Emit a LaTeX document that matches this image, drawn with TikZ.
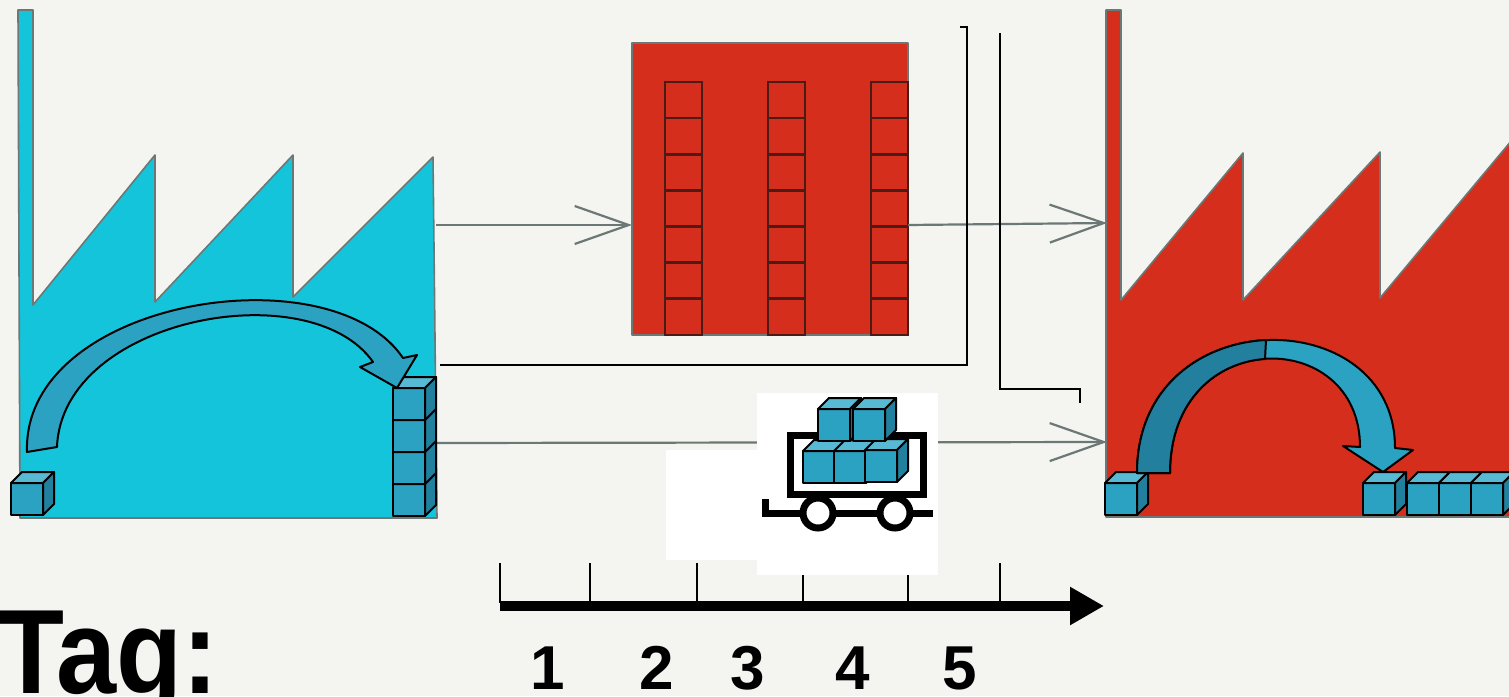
\documentclass[tikz,border=0pt]{standalone}
\usepackage{fontspec}
\setmainfont{Liberation Sans}
\usetikzlibrary{arrows.meta}

\definecolor{paper}{RGB}{244,244,241}
\definecolor{plantcyan}{RGB}{20,196,218}
\definecolor{plantred}{RGB}{214,46,28}
\definecolor{wiregrey}{RGB}{108,120,118}
\definecolor{rackbrown}{RGB}{75,28,22}
\definecolor{cubefront}{RGB}{43,162,194}
\definecolor{cubetop}{RGB}{88,185,212}
\definecolor{cubeside}{RGB}{33,128,157}
\definecolor{bowdark}{RGB}{34,128,158}

\def \cubesize {32}
\def \cubedepth {11}

% one box: #1,#2 = lower left corner of the front face
\newcommand{\boxcube}[2]{%
  \filldraw[cubeedge, fill=cubefront] (#1,#2) rectangle ++(\cubesize,-\cubesize);
  \filldraw[cubeedge, fill=cubetop] (#1,#2-\cubesize) -- ++(\cubedepth,-\cubedepth) -- ++(\cubesize,0) -- ++(-\cubedepth,\cubedepth) -- cycle;
  \filldraw[cubeedge, fill=cubeside] (#1+\cubesize,#2) -- ++(\cubedepth,-\cubedepth) -- ++(0,-\cubesize) -- ++(-\cubedepth,\cubedepth) -- cycle;
}

\tikzset{
  cubeedge/.style={draw=black, line width=2pt, line join=round},
  outline/.style={draw=wiregrey, line width=1.6pt, line join=round},
  flowline/.style={draw=wiregrey, line width=2.2pt, -{Straight Barb[length=54pt,width=38pt]}},
  rack/.style={draw=rackbrown, line width=2.6pt},
  bowarrow/.style={draw=black, line width=2pt, line join=round},
  linkline/.style={draw=black, line width=2pt},
  daytick/.style={draw=black, line width=2.4pt},
  daylabel/.style={font=\fontsize{62}{62}\selectfont\bfseries, anchor=base, inner sep=0pt},
}

\begin{document}
\begin{tikzpicture}[x=1pt, y=-1pt]
\useasboundingbox (0,0) rectangle (1509,696);
\fill[paper] (0,0) rectangle (1509,696);

% supplier plant
\filldraw[outline, fill=plantcyan] (18,10) -- (33,10) -- (33,305) -- (155,155) -- (155,302) -- (293,155) -- (293,297) -- (433,157) -- (437,518) -- (20,518) -- cycle;
% customer plant
\filldraw[outline, fill=plantred] (1106,10) -- (1121,10) -- (1121,300) -- (1243,153) -- (1243,300) -- (1380,152) -- (1380,298) -- (1512,140) -- (1512,517) -- (1106,517) -- cycle;
% warehouse with three racks
\filldraw[outline, fill=plantred] (632,43) rectangle (908,335);
\foreach \x in {665,768,871} {
  \draw[rack] (\x,82) rectangle (\x+37,335);
  \foreach \k in {1,...,6}
    \draw[rack] (\x,82+\k*36.1) -- ++(37,0);
}

% material flow
\coordinate (supOut1) at (436,225);
\coordinate (storeIn) at (632,225);
\coordinate (storeOut) at (908,225);
\coordinate (custIn1) at (1107,223);
\coordinate (supOut2) at (437,443);
\coordinate (custIn2) at (1107,442);
\draw[flowline] (supOut1) -- (storeIn);
\draw[flowline] (storeOut) -- (custIn1);
\draw[flowline] (supOut2) -- (custIn2);

% frame lines
\coordinate (frameA1) at (440,365);
\coordinate (frameA2) at (967,365);
\coordinate (frameA3) at (967,27);
\coordinate (frameA4) at (960,27);
\draw[linkline] (frameA1) -- (frameA2) -- (frameA3) -- (frameA4);
\coordinate (frameB1) at (1000,33);
\coordinate (frameB2) at (1000,389);
\coordinate (frameB3) at (1080,389);
\coordinate (frameB4) at (1080,403);
\draw[linkline] (frameB1) -- (frameB2) -- (frameB3) -- (frameB4);

% day ticks
\foreach \x in {500,590,697,803,908,1000}
  \draw[daytick] (\x,563) -- (\x,603);

% transport cart
\fill[white] (666,450) rectangle (757,560);
\fill[white] (757,393) rectangle (938,575);
\draw[line width=7pt] (790.5,435.5) rectangle (923.5,494.5);
\draw[line width=7pt] (765,499) -- (765,513) -- (933,513);
\filldraw[line width=7pt, fill=white] (818,513) circle (15);
\filldraw[line width=7pt, fill=white] (895,513) circle (15);
\boxcube{803}{483}
\boxcube{834}{483}
\boxcube{865}{482}
\boxcube{818}{441}
\boxcube{853}{441}

% boxes in the plants
\boxcube{11}{515}
\foreach \y in {516,484,452,420} {\boxcube{393}{\y}}
\boxcube{1105}{515}
\boxcube{1363}{515}
\foreach \x in {1407,1439,1471} {\boxcube{\x}{515}}

% handling arrows
\filldraw[bowarrow, fill=cubefront] (27,452) .. controls (22,300) and (330,250) .. (403,358) -- (417,355) -- (397,388) -- (360,367) -- (373,362) .. controls (310,272) and (62,318) .. (57,447) -- cycle;
\filldraw[bowarrow, fill=cubefront] (1137,473) .. controls (1137,300) and (1395,300) .. (1395,448) -- (1413,450) -- (1383,472) -- (1343,446) -- (1360,447) .. controls (1360,325) and (1170,325) .. (1170,473) -- cycle;
\filldraw[bowarrow, fill=bowdark] (1137,473) .. controls (1137,386.5) and (1201.5,343.3) .. (1266,340) -- (1265,359) .. controls (1217.5,362) and (1170,399) .. (1170,473) -- cycle;

% time axis
\coordinate (axisStart) at (500,606);
\coordinate (axisEnd) at (1104,606);
\draw[line width=10pt, -{Triangle[length=34pt,width=36pt]}] (axisStart) -- (axisEnd);
\node[daylabel] (day1) at (548,689) {1};
\node[daylabel] (day2) at (657,689) {2};
\node[daylabel] (day3) at (748,689) {3};
\node[daylabel] (day4) at (853,689) {4};
\node[daylabel] (day5) at (960,689) {5};
\node[anchor=base west, inner sep=0pt, font=\fontsize{120}{120}\selectfont\bfseries] (dayTag) at (-2,693) {\scalebox{0.9}[1]{Tag:}};
\end{tikzpicture}
\end{document}
